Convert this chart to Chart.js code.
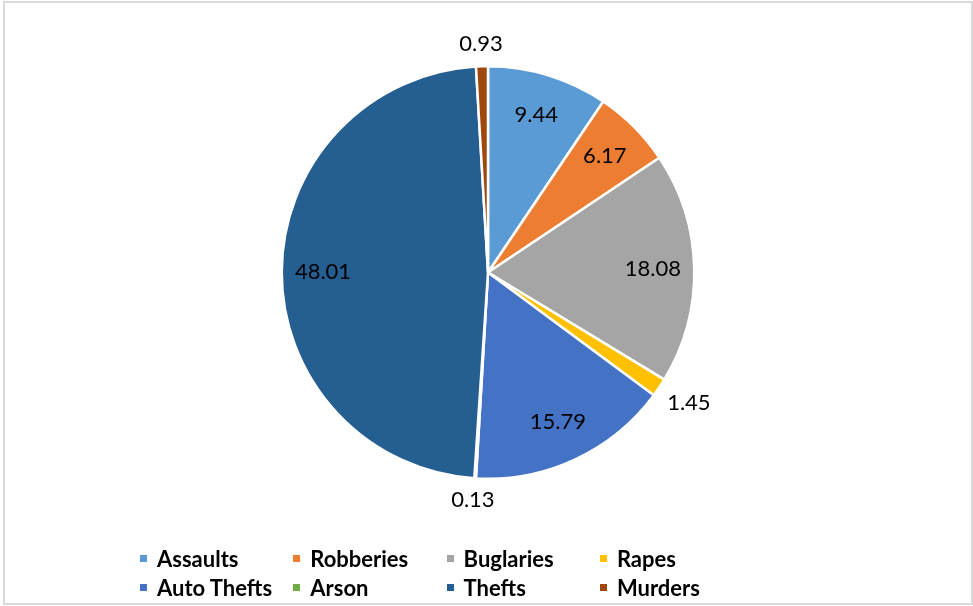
<!DOCTYPE html>
<html>
<head>
<meta charset="utf-8">
<script src="https://cdn.jsdelivr.net/npm/chart.js@4"></script>
<style>
  html, body { margin: 0; padding: 0; background: #fff; }
  #wrap { position: relative; width: 973px; height: 606px; overflow: hidden; }
  #frame { position: absolute; left: 3px; top: 1px; width: 966px; height: 600px; border: 2px solid #d9d9d9; box-sizing: content-box; pointer-events: none; }
  canvas { position: absolute; left: 0; top: 0; }
  #legend { position: absolute; left: 140px; top: 544px; display: grid; grid-template-columns: 153.3px 153.3px 153.3px 153.3px; font-family: Lato, "Open Sans", sans-serif; font-weight: bold; font-size: 22px; color: #000; }
  .item { height: 29px; line-height: 29px; white-space: nowrap; display: flex; align-items: center; }
  .sw { width: 7px; height: 7px; margin-right: 10px; flex: none; }
</style>
</head>
<body>
<div id="wrap">
  <canvas id="c" width="973" height="606"></canvas>
  <div id="frame"></div>
  <div id="legend"></div>
</div>
<script>
const categories = ["Assaults", "Robberies", "Buglaries", "Rapes", "Auto Thefts", "Arson", "Thefts", "Murders"];
const values = [9.44, 6.17, 18.08, 1.45, 15.79, 0.13, 48.01, 0.93];
const colors = ["#5B9BD5", "#ED7D31", "#A5A5A5", "#FFC000", "#4472C4", "#70AD47", "#255E91", "#9E480E"];

const labelPlugin = {
  id: 'sliceLabels',
  afterDatasetsDraw(chart) {
    const ctx = chart.ctx;
    const meta = chart.getDatasetMeta(0);
    ctx.save();
    ctx.font = '22px Lato, "Open Sans", sans-serif';
    ctx.fillStyle = '#000';
    ctx.textAlign = 'center';
    ctx.textBaseline = 'middle';
    meta.data.forEach((arc, i) => {
      const p = arc.getProps(['x', 'y', 'startAngle', 'endAngle', 'outerRadius'], true);
      const a = (p.startAngle + p.endAngle) / 2;
      const txt = values[i].toFixed(2);
      const c = Math.cos(a), s = Math.sin(a);
      let lx, ly;
      if (values[i] >= 2) {
        lx = p.x + c * p.outerRadius * 0.8;
        ly = p.y + s * p.outerRadius * 0.8;
      } else {
        const w = ctx.measureText(txt).width;
        const h = 16;
        const r = p.outerRadius + 14;
        lx = p.x + c * r + c * w / 2;
        ly = p.y + s * r + Math.sign(s) * h / 2;
      }
      ctx.fillText(txt, lx, ly);
    });
    ctx.restore();
  }
};

new Chart(document.getElementById('c'), {
  type: 'pie',
  data: {
    labels: categories,
    datasets: [{
      data: values,
      backgroundColor: colors,
      borderColor: '#ffffff',
      borderWidth: 2.5
    }]
  },
  options: {
    responsive: false,
    animation: false,
    devicePixelRatio: 1,
    layout: { padding: { top: 65, bottom: 126, left: 3, right: 0 } },
    plugins: {
      legend: { display: false },
      tooltip: { enabled: false }
    }
  },
  plugins: [labelPlugin]
});

const legend = document.getElementById('legend');
categories.forEach((name, i) => {
  const it = document.createElement('div');
  it.className = 'item';
  const sw = document.createElement('span');
  sw.className = 'sw';
  sw.style.background = colors[i];
  const t = document.createElement('span');
  t.textContent = name;
  it.appendChild(sw);
  it.appendChild(t);
  legend.appendChild(it);
});
</script>
</body>
</html>
